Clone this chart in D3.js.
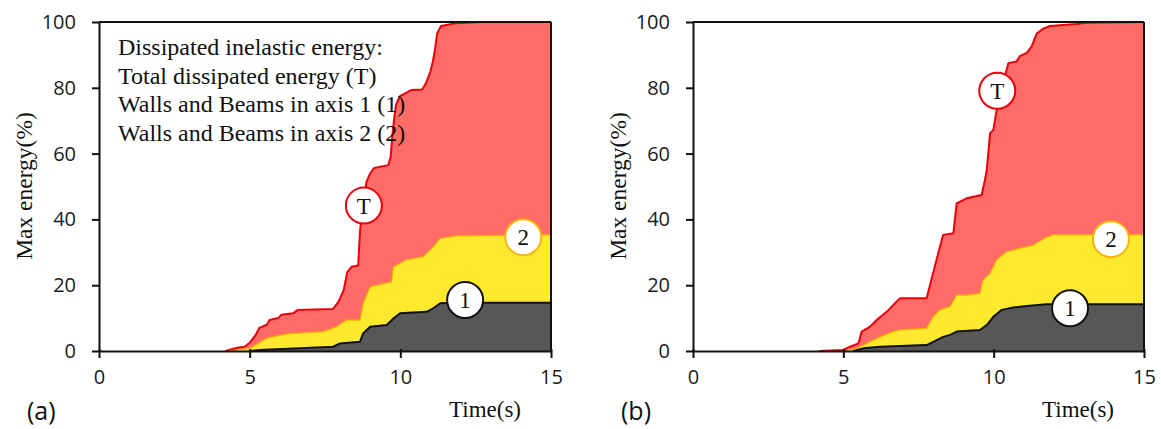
<!DOCTYPE html>
<html>
<head>
<meta charset="utf-8">
<script src="https://cdn.jsdelivr.net/npm/d3@7"></script>
<style>
  html, body { margin: 0; padding: 0; background: #fff; }
  svg { display: block; }
</style>
</head>
<body>
<svg id="chart" width="1161" height="429"></svg>
<script>
// ---------- DATA ----------
const xTicks = [0, 5, 10, 15];
const yTicks = [0, 20, 40, 60, 80, 100];
const panelLabels = ["(a)", "(b)"];
const legendLines = [
  "Dissipated inelastic energy:",
  "Total dissipated energy (T)",
  "Walls and Beams in axis 1 (1)",
  "Walls and Beams in axis 2 (2)"
];

// Panel (a) — [time (s), max energy (%)]
const totalA = [[4.2,0],[4.58,1],[4.83,1.3],[5.0,2.5],[5.2,4.9],[5.32,7],[5.57,8],[5.66,9.4],[5.95,10],[6.05,11],[6.45,11.5],[6.6,12.5],[7.77,12.8],[7.95,15],[8.12,18.5],[8.24,24],[8.38,25.6],[8.6,26],[8.66,36],[8.72,42],[8.78,46],[8.88,51.5],[9.0,54],[9.13,55.6],[9.6,56.5],[9.68,59],[9.74,66],[9.8,71],[9.86,75],[9.99,77.5],[10.36,79.3],[10.72,79.5],[10.85,81.4],[11.0,85],[11.08,88],[11.15,91.5],[11.22,96.5],[11.35,98.8],[11.83,99.6],[12.68,100],[15,100]];
const axis2A = [[4.3,0],[5.0,0.8],[5.29,2.3],[5.57,3.9],[6.23,5.2],[7.45,5.9],[7.89,7.4],[8.22,9.4],[8.66,9.4],[8.77,14.5],[9.0,19.5],[9.71,21],[9.77,25.6],[10.21,27.7],[10.76,28.7],[11.1,31.7],[11.32,34.2],[11.87,35],[15,35.3]];
const axis1A = [[5.0,0],[5.5,0.4],[6.67,0.8],[7.77,1.3],[8.0,2.3],[8.66,2.8],[8.77,5.4],[9.0,7.4],[9.55,7.9],[9.77,9.9],[9.99,11.5],[10.88,11.9],[11.1,13],[11.32,14.5],[11.75,14.7],[15,14.7]];

// Panel (b)
const totalB = [[4.2,0],[5.0,0.3],[5.22,1.3],[5.5,2.3],[5.61,5.9],[5.89,7.4],[6.11,9.4],[6.44,11.9],[6.72,14.5],[6.88,16],[7.77,16],[8.1,27.7],[8.32,35.3],[8.66,35.8],[8.77,44.9],[9.1,46.4],[9.6,47.4],[9.71,52],[9.77,55],[9.88,66.2],[9.99,67.2],[10.1,73.3],[10.21,78.3],[10.43,85.4],[10.49,87.5],[10.76,88],[10.87,89.6],[11.1,90.6],[11.26,92.5],[11.43,96.5],[11.65,98],[11.87,98.8],[12.76,99.4],[13.09,99.8],[15,100]];
const axis2B = [[5.0,0],[5.44,0.8],[5.78,2.3],[6.22,4.3],[6.66,5.9],[6.88,6.4],[7.77,6.9],[7.99,10.4],[8.21,12.5],[8.55,13.5],[8.77,17],[9.1,17],[9.54,17.5],[9.65,21.6],[9.88,23.6],[10.1,27.7],[10.43,30.2],[10.87,31.2],[11.32,32.2],[11.76,34.6],[11.98,35.3],[15,35.3]];
const axis1B = [[5.33,0],[5.66,0.8],[6.22,1.3],[7.77,1.8],[7.99,2.8],[8.32,4.3],[8.55,4.9],[8.77,5.9],[9.54,6.4],[9.77,7.9],[9.99,10.4],[10.27,12.5],[10.65,13.2],[11.1,13.7],[11.76,14.2],[15,14.2]];

// Circle label anchors [time, energy] for T, 2, 1
const markersA = [["T", 8.79, 44.2], ["2", 14.08, 34.6], ["1", 12.15, 15.5]];
const markersB = [["T", 10.12, 79.1], ["2", 13.9, 34], ["1", 12.54, 13.0]];

// ---------- STYLE ----------
const C = {
  redFill: "#ff6b66", redLine: "#e8000b",
  yelFill: "#ffe92e", yelLine: "#f5ad00",
  grayFill: "#575757", grayLine: "#111111"
};
const markerStroke = { "T": C.redLine, "2": "#f7b500", "1": "#111" };

const svg = d3.select("#chart");

function panel(cfg) {
  const x = d3.scaleLinear().domain([0, 15]).range([cfg.x0, cfg.x1]);
  const y = d3.scaleLinear().domain([0, 100]).range([351, 22]);
  const g = svg.append("g");

  const area = d3.area().x(d => x(d[0])).y0(y(0)).y1(d => y(d[1]));
  const line = d3.line().x(d => x(d[0])).y(d => y(d[1]));

  const layers = [
    [cfg.total, C.redFill, C.redLine, 2],
    [cfg.axis2, C.yelFill, C.yelLine, 1.2],
    [cfg.axis1, C.grayFill, C.grayLine, 2]
  ];
  layers.forEach(([data, fill, stroke, w]) => {
    g.append("path").datum(data).attr("d", area).attr("fill", fill);
    g.append("path").datum(data).attr("d", line).attr("fill", "none")
      .attr("stroke", stroke).attr("stroke-width", w).attr("stroke-linejoin", "round");
  });

  // frame top/right
  g.append("line").attr("x1", x(0)).attr("x2", x(15)).attr("y1", y(100)).attr("y2", y(100))
    .attr("stroke", "#111").attr("stroke-width", 2);
  g.append("line").attr("x1", x(15)).attr("x2", x(15)).attr("y1", y(100)).attr("y2", y(0))
    .attr("stroke", "#111").attr("stroke-width", 2);

  // axes
  const xAxis = d3.axisBottom(x).tickValues(xTicks).tickSize(7).tickSizeOuter(0).tickPadding(12);
  const yAxis = d3.axisLeft(y).tickValues(yTicks).tickSize(7).tickSizeOuter(0).tickPadding(16);
  const gx = g.append("g").attr("transform", `translate(0,${y(0)})`).call(xAxis);
  const gy = g.append("g").attr("transform", `translate(${x(0)},0)`).call(yAxis);
  [gx, gy].forEach(a => {
    a.select(".domain").attr("stroke", "#111").attr("stroke-width", 2);
    a.selectAll(".tick line").attr("stroke", "#111").attr("stroke-width", 2);
    a.selectAll(".tick text").attr("fill", "#1a1a1a")
      .style("font-family", "'Open Sans', sans-serif").style("font-size", "20px");
  });
  gx.selectAll(".tick line").attr("y1", -2);

  // axis titles
  g.append("text").attr("x", x(15) - 66).attr("y", 417)
    .attr("text-anchor", "middle").attr("fill", "#111")
    .style("font-family", "'Liberation Serif', 'Times New Roman', serif").style("font-size", "23px")
    .text("Time(s)");
  g.append("text").attr("transform", `translate(${x(0) - 67},186) rotate(-90)`)
    .attr("text-anchor", "middle").attr("fill", "#111")
    .style("font-family", "'Liberation Serif', 'Times New Roman', serif").style("font-size", "23.5px")
    .text("Max energy(%)");
  g.append("text").attr("x", x(0) - 72).attr("y", 420)
    .attr("fill", "#111")
    .style("font-family", "'Open Sans', sans-serif").style("font-size", "25px")
    .text(cfg.label);

  if (cfg.legend) {
    g.selectAll(".leg").data(legendLines).enter().append("text")
      .attr("x", 118).attr("y", (d, i) => 55 + i * 28.5)
      .attr("fill", "#111")
      .style("font-family", "'Liberation Serif', 'Times New Roman', serif").style("font-size", "24px")
      .text(d => d);
  }

  // circle markers
  const m = g.selectAll(".mk").data(cfg.markers).enter().append("g")
    .attr("transform", d => `translate(${x(d[1])},${y(d[2])})`);
  m.append("circle").attr("r", 18).attr("fill", "#fff")
    .attr("stroke", d => markerStroke[d[0]]).attr("stroke-width", 2);
  m.append("text").attr("text-anchor", "middle").attr("y", 8).attr("fill", "#111")
    .style("font-family", "'Liberation Serif', 'Times New Roman', serif").style("font-size", "23px")
    .text(d => d[0]);
}

panel({ x0: 99, x1: 551, total: totalA, axis2: axis2A, axis1: axis1A, markers: markersA, label: panelLabels[0], legend: true });
panel({ x0: 693, x1: 1144, total: totalB, axis2: axis2B, axis1: axis1B, markers: markersB, label: panelLabels[1], legend: false });
</script>
</body>
</html>
